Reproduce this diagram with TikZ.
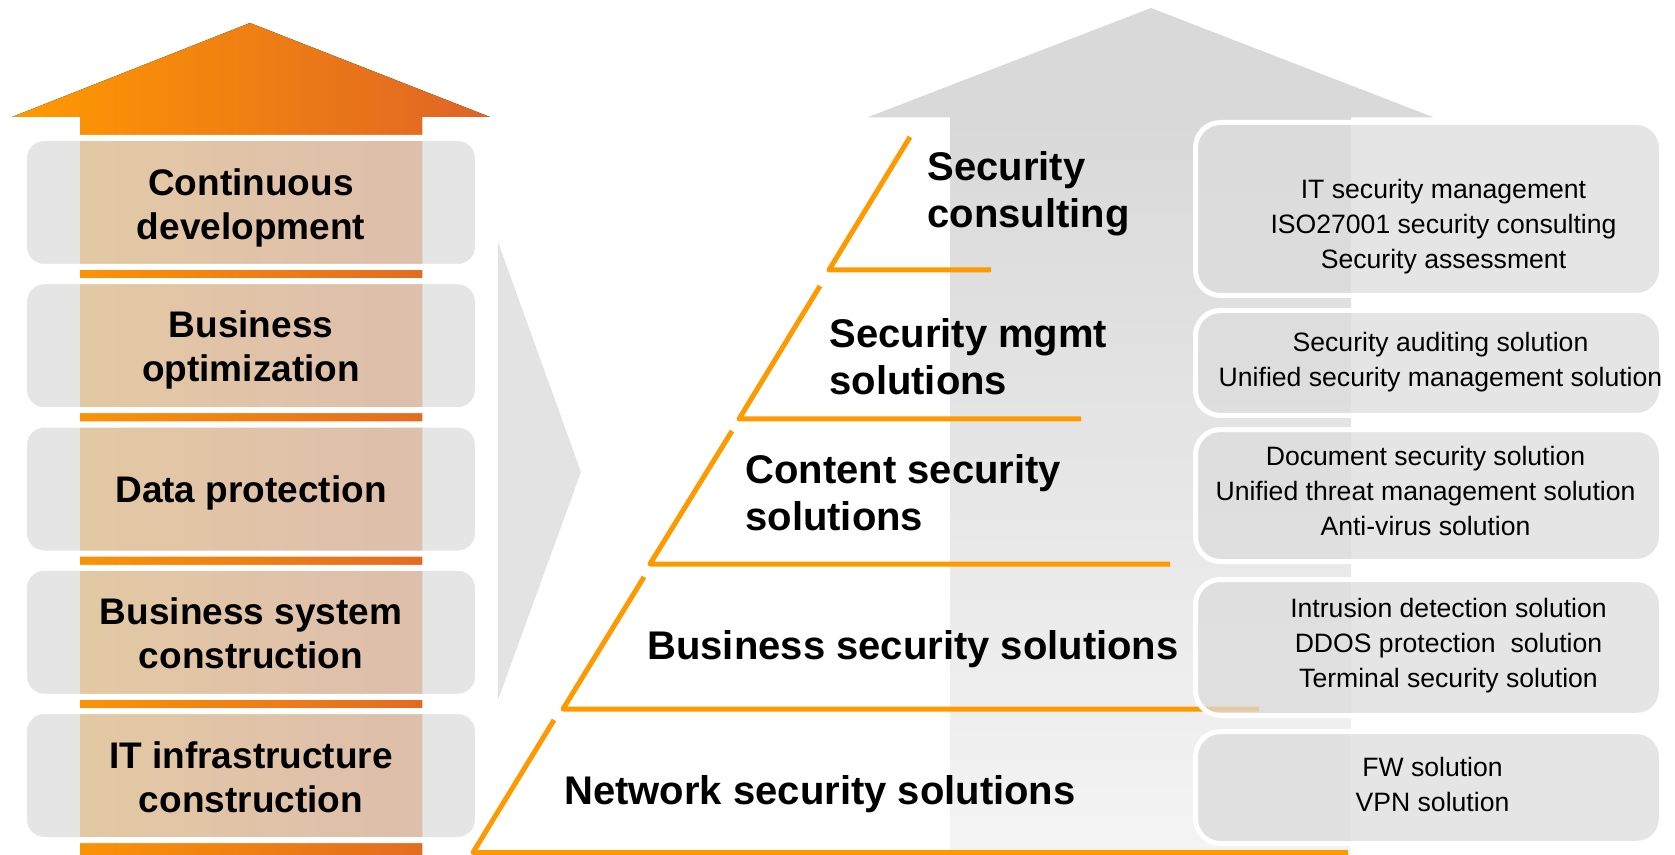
\documentclass[tikz,border=0pt]{standalone}
\usepackage{fontspec}
\setmainfont{Liberation Sans}
\usepackage{xcolor}
\usepackage{tikz}
\definecolor{arrowOrange}{HTML}{FF9A00}
\definecolor{arrowRust}{HTML}{DF6426}
\definecolor{boxGray}{HTML}{DCDCDC}
\definecolor{chevronGray}{HTML}{E3E3E3}
\definecolor{shaftGray}{HTML}{D9D9D9}
\definecolor{shaftLight}{HTML}{F4F4F4}
\definecolor{stepOrange}{HTML}{FF9900}

\begin{document}
\begin{tikzpicture}[x=0.5pt, y=-0.5pt,
    stagebox/.style={draw=white, line width=3pt, fill=boxGray, fill opacity=0.74,
        rounded corners=10pt, minimum width=227pt, minimum height=64.5pt, inner sep=0pt},
    stagelabel/.style={align=center, inner sep=0pt, font=\bfseries\fontsize{18.5pt}{22pt}\selectfont},
    solutionbox/.style={draw=white, line width=2.5pt, fill=boxGray, fill opacity=0.74,
        rounded corners=12.5pt, minimum width=233pt, inner sep=0pt},
    solutiontext/.style={align=center, inner sep=0pt, font=\fontsize{13.3pt}{17.5pt}\selectfont},
    levellabel/.style={anchor=west, align=left, inner sep=0pt, font=\bfseries\fontsize{20pt}{23.5pt}\selectfont},
    pyramidline/.style={draw=stepOrange, line width=2.5pt, line join=round}]
                \useasboundingbox (0,0) rectangle (1675,855);

                % left: orange arrow with stages
                \fill[left color=arrowOrange, right color=arrowRust] (250,23) -- (490,117) -- (422,117) -- (422,855)
                    -- (80,855) -- (80,117) -- (12,117) -- cycle;
                \node[stagebox] (contdev) at (251,202.5) {};
                \node[stagebox] (bizopt) at (251,345.75) {};
                \node[stagebox] (dataprot) at (251,489) {};
                \node[stagebox] (bizsys) at (251,632.25) {};
                \node[stagebox] (itinfra) at (251,775.5) {};
                \node[stagelabel] (contdevlabel) at ([yshift=-2.5pt]contdev.center) {Continuous\\development};
                \node[stagelabel] (bizoptlabel) at ([yshift=-2pt]bizopt.center) {Business\\optimization};
                \node[stagelabel] (dataprotlabel) at ([yshift=-2pt]dataprot.center) {Data protection};
                \node[stagelabel] (bizsyslabel) at ([yshift=-0.5pt]bizsys.center) {Business system\\construction};
                \node[stagelabel] (itinfralabel) at ([yshift=-1pt]itinfra.center) {IT infrastructure\\construction};

                % chevron in between
                \fill[chevronGray] (498,242) -- (581,472) -- (498,700) -- cycle;

                % right: gray arrow
                \fill[shaftGray] (1151,8) -- (1434,117.5) -- (867,117.5) -- cycle;
                \fill[top color=shaftGray, bottom color=shaftLight] (950,117) rectangle (1351,855);

                % pyramid steps
                \draw[pyramidline] (910,137) -- (829,270) -- (991,270);
                \draw[pyramidline] (820,286) -- (739,419) -- (1081,419);
                \draw[pyramidline] (732,431) -- (650,564) -- (1170,564);
                \draw[pyramidline] (644,577) -- (563,709) -- (1259,709);
                \draw[pyramidline] (554,720) -- (473,852.5) -- (1348,852.5);

                \node[levellabel] (consultlabel) at (927,194) {Security\\consulting};
                \node[levellabel] (mgmtlabel) at (829,357) {Security mgmt\\solutions};
                \node[levellabel] (contentlabel) at (745,493) {Content security\\solutions};
                \node[levellabel] (bizseclabel) at (647,649) {Business security solutions};
                \node[levellabel] (netlabel) at (564,794) {Network security solutions};

                % solution boxes
                \node[solutionbox, minimum height=86.5pt] (consultbox) at (1428.5,209) {};
                \node[solutionbox, minimum height=52.5pt] (mgmtbox) at (1428.5,363) {};
                \node[solutionbox, minimum height=66pt] (contentbox) at (1428.5,495.5) {};
                \node[solutionbox, minimum height=68pt] (bizsecbox) at (1428.5,647.5) {};
                \node[solutionbox, minimum height=56pt] (netbox) at (1428.5,787.5) {};

                \node[solutiontext] (consulttext) at ([xshift=7.5pt, yshift=-9pt]consultbox.center)
                    {IT security management\\ISO27001 security consulting\\Security assessment};
                \node[solutiontext] (mgmttext) at ([xshift=6pt, yshift=0.2pt]mgmtbox.center)
                    {Security auditing solution\\Unified security management solution};
                \node[solutiontext] (contenttext) at ([xshift=-1.5pt, yshift=2.3pt]contentbox.center)
                    {Document security solution\\Unified threat management solution\\Anti-virus solution};
                \node[solutiontext] (bizsectext) at ([xshift=10pt, yshift=1pt]bizsecbox.center)
                    {Intrusion detection solution\\DDOS protection\ \ solution\\Terminal security solution};
                \node[solutiontext] (nettext) at ([xshift=2pt, yshift=1.5pt]netbox.center)
                    {FW solution\\VPN solution};
            \end{tikzpicture}
\end{document}
